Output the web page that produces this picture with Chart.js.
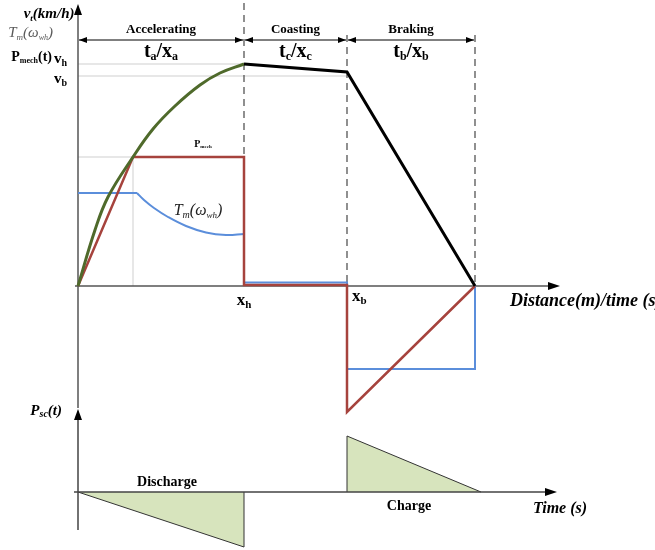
<!DOCTYPE html>
<html>
<head>
<meta charset="utf-8">
<script src="https://cdn.jsdelivr.net/npm/chart.js@4/dist/chart.umd.min.js"></script>
<style>
  html, body { margin: 0; padding: 0; background: #fff; }
  #wrap { width: 655px; height: 550px; }
</style>
</head>
<body>
<div id="wrap"><canvas id="c" width="655" height="550"></canvas></div>
<script>
// ---- Drive-cycle phases along the distance/time axis ----
const phaseBounds = [0, 16.6, 26.9, 39.7];          // start, x_h, x_b, stop
const rampEnd = 5.5;                                  // end of constant-torque ramp
const phaseNames = ['Accelerating', 'Coasting', 'Braking'];
const phaseSubs = ['a', 'c', 'b'];

// ---- Vehicle speed v_t ----
const speedAccel = [[0, 0], [1.7, 5.6], [3.0, 8.9], [5.5, 12.9], [7.5, 15.7], [9.7, 18.0], [12.2, 20.1], [14.2, 21.3], [16.6, 22.2]];
const speedCoastBrake = [[16.6, 22.2], [26.9, 21.4], [39.7, 0]];
const speedLevels = [22.2, 21.0];                     // v_h, v_b

// ---- Mechanical power P_mech(t) ----
const pMech = [[0, 0], [5.5, 12.9], [16.6, 12.9], [16.6, 0.1], [26.9, 0.1], [26.9, -12.6], [39.7, 0]];

// ---- Motor torque T_m(w_wh) ----
const torqueFlat = [[0, 9.3], [5.9, 9.3]];
const torqueDecay = [[5.9, 9.3], [6.6, 8.6], [7.6, 7.8], [9.0, 6.9], [10.8, 6.0], [12.8, 5.35], [14.8, 5.1], [16.6, 5.2]];
const torqueRest = [[16.6, 5.2], [16.6, 0.35], [26.9, 0.35], [26.9, -8.3], [39.7, -8.3], [39.7, 0]];

// ---- Supercapacitor power P_sc(t) ----
const pscDischarge = [[0, 0], [16.6, -5.5], [16.6, 0]];
const pscCharge = [[26.9, 0], [26.9, 5.6], [40.3, 0]];

const pts = a => a.map(p => ({ x: p[0], y: p[1] }));
const SERIF = '"Liberation Serif", "DejaVu Serif", serif';
const F = (style, size) => `${style} ${size}px ${SERIF}`;

// Mixed-size text runs: [text, font, dy]
function richText(ctx, x, y, runs, align, color) {
  let w = 0;
  runs.forEach(r => { ctx.font = r[1]; w += ctx.measureText(r[0]).width; });
  let cx = align === 'center' ? x - w / 2 : align === 'right' ? x - w : x;
  ctx.fillStyle = color || '#000';
  ctx.textBaseline = 'alphabetic';
  ctx.textAlign = 'left';
  runs.forEach(r => {
    ctx.font = r[1];
    ctx.fillText(r[0], cx, y + (r[2] || 0));
    cx += ctx.measureText(r[0]).width;
  });
}

function arrowHead(ctx, x, y, dir, len, half) {
  ctx.beginPath();
  if (dir === 'r') { ctx.moveTo(x, y); ctx.lineTo(x - len, y - half); ctx.lineTo(x - len, y + half); }
  if (dir === 'l') { ctx.moveTo(x, y); ctx.lineTo(x + len, y - half); ctx.lineTo(x + len, y + half); }
  if (dir === 'u') { ctx.moveTo(x, y); ctx.lineTo(x - half, y + len); ctx.lineTo(x + half, y + len); }
  ctx.closePath();
  ctx.fill();
}

const diagram = {
  id: 'diagram',
  beforeDatasetsDraw(chart) {
    const { ctx, scales: { x, y } } = chart;
    const X = v => x.getPixelForValue(v), Y = v => y.getPixelForValue(v);
    ctx.save();
    // light guide lines
    ctx.strokeStyle = '#cfcfcf';
    ctx.lineWidth = 1;
    ctx.beginPath();
    ctx.moveTo(X(0), Y(speedLevels[0])); ctx.lineTo(X(phaseBounds[1]), Y(speedLevels[0]));
    ctx.moveTo(X(0), Y(speedLevels[1])); ctx.lineTo(X(phaseBounds[2]), Y(speedLevels[1]));
    ctx.moveTo(X(0), Y(pMech[1][1])); ctx.lineTo(X(rampEnd), Y(pMech[1][1]));
    ctx.moveTo(X(rampEnd), Y(pMech[1][1])); ctx.lineTo(X(rampEnd), Y(0));
    ctx.stroke();

    // dashed phase boundaries
    ctx.strokeStyle = '#555';
    ctx.lineWidth = 1.3;
    ctx.setLineDash([7, 5]);
    ctx.beginPath();
    ctx.moveTo(X(phaseBounds[1]), Y(28.3)); ctx.lineTo(X(phaseBounds[1]), Y(0));
    ctx.moveTo(X(phaseBounds[2]), Y(25.1)); ctx.lineTo(X(phaseBounds[2]), Y(0));
    ctx.moveTo(X(phaseBounds[3]), Y(25.1)); ctx.lineTo(X(phaseBounds[3]), Y(0));
    ctx.stroke();
    ctx.setLineDash([]);

    // upper axes
    ctx.strokeStyle = '#555';
    ctx.fillStyle = '#000';
    ctx.lineWidth = 1.5;
    ctx.beginPath();
    ctx.moveTo(X(0), Y(-12.2)); ctx.lineTo(X(0), Y(27.6));
    ctx.moveTo(X(-0.3), Y(0)); ctx.lineTo(X(47.5), Y(0));
    ctx.stroke();
    arrowHead(ctx, X(0), Y(28.2), 'u', 11, 4);
    arrowHead(ctx, X(48.2), Y(0), 'r', 12, 4);

    // double-headed phase arrows
    ctx.strokeStyle = '#000';
    ctx.lineWidth = 1;
    const ay = Y(24.6);
    for (let i = 0; i < 3; i++) {
      const a = X(phaseBounds[i]) + 1, b = X(phaseBounds[i + 1]) - 1;
      ctx.beginPath(); ctx.moveTo(a, ay); ctx.lineTo(b, ay); ctx.stroke();
      arrowHead(ctx, a, ay, 'l', 8, 3);
      arrowHead(ctx, b, ay, 'r', 8, 3);
    }
    ctx.restore();
  },
  afterDatasetsDraw(chart) {
    const { ctx, scales: { x, y, y2 } } = chart;
    const X = v => x.getPixelForValue(v), Y = v => y.getPixelForValue(v), Y2 = v => y2.getPixelForValue(v);
    ctx.save();
    // lower axes
    ctx.strokeStyle = '#444';
    ctx.fillStyle = '#000';
    ctx.lineWidth = 1.5;
    ctx.beginPath();
    ctx.moveTo(X(0), Y2(-3.8)); ctx.lineTo(X(0), Y2(7.6));
    ctx.moveTo(X(-0.4), Y2(0)); ctx.lineTo(X(47.2), Y2(0));
    ctx.stroke();
    arrowHead(ctx, X(0), Y2(8.3), 'u', 11, 4);
    arrowHead(ctx, X(47.9), Y2(0), 'r', 12, 4);

    // phase titles and durations
    for (let i = 0; i < 3; i++) {
      const cx = (X(phaseBounds[i]) + X(phaseBounds[i + 1])) / 2;
      richText(ctx, cx, Y(25.3), [[phaseNames[i], F('bold', 13)]], 'center');
      const s = phaseSubs[i];
      richText(ctx, cx, Y(22.9), [
        ['t', F('bold', 20)], [s, F('bold', 12), 3], ['/x', F('bold', 20)], [s, F('bold', 12), 3]
      ], 'center');
    }

    // vertical axis caption stack
    richText(ctx, X(-0.35), Y(26.8), [['v', F('italic bold', 15)], ['t', F('italic bold', 9), 3], ['(km/h)', F('italic bold', 15)]], 'right');
    richText(ctx, X(-2.5), Y(24.9), [['T', F('italic', 15)], ['m', F('italic', 9), 3], ['(ω', F('italic', 15)], ['wh', F('italic', 8), 3], [')', F('italic', 15)]], 'right', '#5a5a5a');
    richText(ctx, X(-2.6), Y(22.5), [['P', F('bold', 14)], ['mech', F('bold', 8), 2], ['(t)', F('bold', 14)]], 'right');
    richText(ctx, X(-2.4), Y(22.3), [['v', F('bold', 15)], ['h', F('bold', 10), 3]], 'left');
    richText(ctx, X(-2.4), Y(20.3), [['v', F('bold', 15)], ['b', F('bold', 10), 3]], 'left');

    // curve annotations
    richText(ctx, X(12.5), Y(13.9), [['P', F('bold', 10)], ['mech', F('bold', 5), 1]], 'center');
    richText(ctx, X(12.0), Y(7.1), [['T', F('italic', 16)], ['m', F('italic', 10), 3], ['(ω', F('italic', 16)], ['wh', F('italic', 9), 3], [')', F('italic', 16)]], 'center', '#222');

    // boundary marks
    richText(ctx, X(phaseBounds[1]), Y(-1.9), [['x', F('bold', 17)], ['h', F('bold', 11), 3]], 'center');
    richText(ctx, X(phaseBounds[2]) + 5, Y(-1.5), [['x', F('bold', 17)], ['b', F('bold', 11), 3]], 'left');

    // axis titles
    richText(ctx, X(43.2), Y(-2.0), [['Distance(m)/time (s)', F('italic bold', 18)]], 'left');
    richText(ctx, X(-1.6), Y2(7.7), [['P', F('italic bold', 15)], ['sc', F('italic bold', 10), 2], ['(t)', F('italic bold', 15)]], 'right');
    richText(ctx, X(45.5), Y2(-2.1), [['Time (s)', F('italic bold', 16)]], 'left');

    // supercapacitor mode labels
    richText(ctx, X(8.9), Y2(0.6), [['Discharge', F('bold', 14)]], 'center');
    richText(ctx, X(33.1), Y2(-1.8), [['Charge', F('bold', 14)]], 'center');
    ctx.restore();
  }
};

const line = (data, color, width, extra) => Object.assign({
  data: pts(data), borderColor: color, borderWidth: width, pointRadius: 0,
  showLine: true, fill: false, tension: 0, yAxisID: 'y'
}, extra || {});

new Chart(document.getElementById('c'), {
  type: 'scatter',
  data: {
    datasets: [
      line(speedCoastBrake, '#000000', 3, { order: 1 }),
      line(speedAccel, '#4f6a2b', 3, { order: 2, tension: 0.4 }),
      line(pMech, '#a6433d', 2.5, { order: 3 }),
      line(torqueFlat, '#5b8edb', 2, { order: 4 }),
      line(torqueDecay, '#5b8edb', 2, { order: 4, tension: 0.4 }),
      line(torqueRest, '#5b8edb', 2, { order: 5 }),
      line(pscDischarge, '#333333', 1, { order: 6, yAxisID: 'y2', fill: 'origin', backgroundColor: '#d7e4bd' }),
      line(pscCharge, '#333333', 1, { order: 7, yAxisID: 'y2', fill: 'origin', backgroundColor: '#d7e4bd' })
    ]
  },
  options: {
    responsive: false,
    animation: false,
    devicePixelRatio: 1,
    layout: { padding: 0 },
    plugins: { legend: { display: false }, tooltip: { enabled: false } },
    scales: {
      x: { type: 'linear', display: false, min: -7.8, max: 57.7 },
      y: { type: 'linear', display: false, min: -26.4, max: 28.6 },
      y2: { type: 'linear', display: false, min: -5.8, max: 49.2 }
    }
  },
  plugins: [diagram]
});
</script>
</body>
</html>
